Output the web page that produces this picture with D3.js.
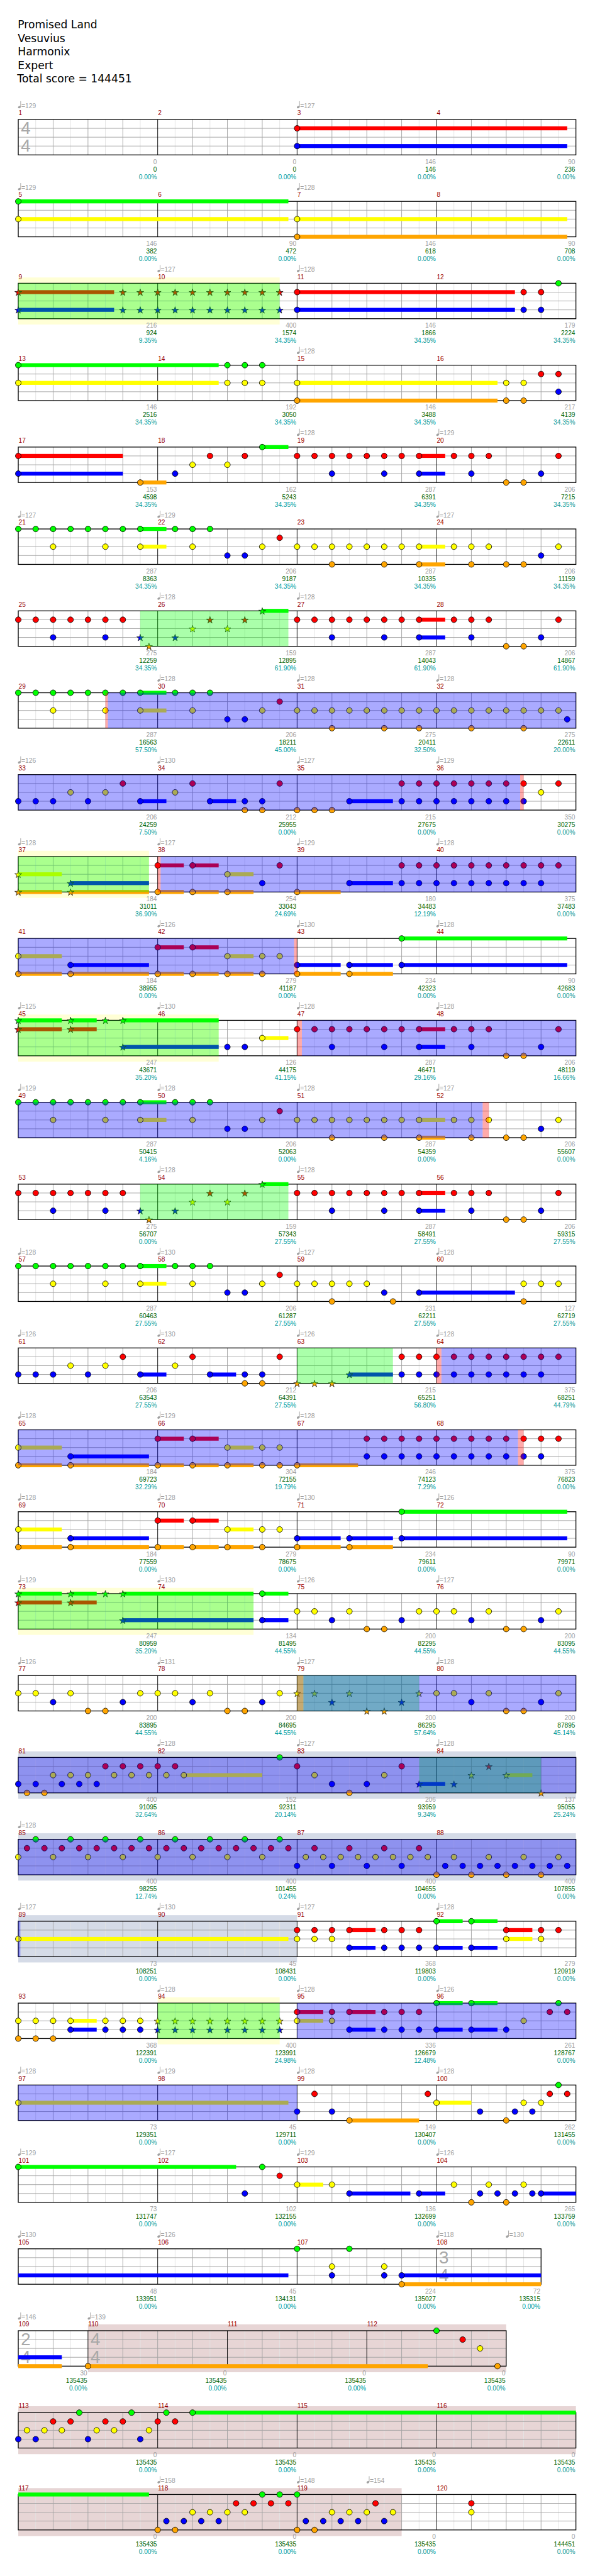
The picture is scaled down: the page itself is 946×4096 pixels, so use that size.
<!DOCTYPE html>
<html><head><meta charset="utf-8">
<script src="https://cdn.jsdelivr.net/npm/d3@7/dist/d3.min.js"></script>
<style>html,body{margin:0;padding:0;background:#fff;}svg{display:block;}</style>
</head><body>
<svg id="chart" width="946" height="4096" viewBox="0 0 1024 4435"></svg>
<script>
// ---------------- DATA ----------------
const titleLines = ["Promised Land", "Vesuvius", "Harmonix", "Expert"];
const totalScore = 144451;
const measureCount = 120;
const timeSignatures = [[1, 4, 4], [108, 3, 4], [109, 2, 4], [110, 4, 4]];

// [measure, beat, bpm]
const tempos = [[1,0,129],[3,0,127],[5,0,129],[7,0,128],[10,0,127],[11,0,128],[15,0,128],[19,0,128],[20,0,129],
[21,0,127],[22,0,129],[24,0,127],[26,0,128],[27,0,128],[30,0,128],[31,0,128],[32,0,128],[33,0,126],[34,0,130],
[35,0,127],[36,0,129],[37,0,128],[38,0,127],[39,0,129],[40,0,128],[42,0,126],[43,0,130],[44,0,128],[45,0,125],
[46,0,130],[47,0,128],[48,0,128],[49,0,129],[50,0,128],[51,0,128],[52,0,127],[54,0,128],[55,0,128],[57,0,128],
[58,0,130],[59,0,127],[60,0,128],[61,0,126],[62,0,130],[63,0,126],[64,0,128],[65,0,128],[66,0,129],[67,0,128],
[69,0,128],[70,0,128],[71,0,130],[72,0,126],[73,0,129],[74,0,130],[75,0,126],[76,0,127],[77,0,126],[78,0,131],
[79,0,127],[80,0,128],[82,0,128],[83,0,127],[84,0,128],[85,0,128],[89,0,127],[90,0,130],[91,0,127],[92,0,128],
[94,0,128],[95,0,128],[96,0,126],[97,0,128],[98,0,129],[99,0,128],[100,0,128],[101,0,129],[102,0,127],[103,0,129],
[104,0,126],[105,0,130],[106,0,126],[108,0,118],[108,2,130],[109,0,146],[110,0,139],[118,0,158],[119,0,148],[119,2,154]];

// [measure, beat, lanes (G R Y B O), sustain in beats]
const notes = [
[3,0,"RB",7.75],
[5,0,"GY",7.75],[7,0,"YO",7.75],
[9,0,"RB",2.75],[9,3,"RB"],[9,3.5,"RB"],[10,0,"RB"],[10,0.5,"RB"],[10,1,"RB"],[10,1.5,"RB"],[10,2,"RB"],[10,2.5,"RB"],[10,3,"RB"],[10,3.5,"RB"],
[11,0,"RB",6.25],[12,2.5,"RB"],[12,3,"RB"],[12,3.5,"G"],
[13,0,"GY",5.75],[14,2,"GY"],[14,2.5,"GY"],[14,3,"GY"],[15,0,"YO",5.75],[16,2,"YO"],[16,2.5,"YO"],[16,3,"R"],[16,3.5,"RB"],
[17,0,"RB",3],[17,3.5,"O",0.75],[18,0.5,"B"],[18,1,"Y"],[18,1.5,"R"],[18,2,"Y"],[18,2.5,"R"],[18,3,"G",0.75],
[19,0,"R"],[19,0.5,"R"],[19,1,"RB"],[19,1.5,"R"],[19,2,"R"],[19,2.5,"RB"],[19,3,"R"],[19,3.5,"RB",0.75],[20,0.5,"R"],[20,1,"RB"],[20,1.5,"R"],[20,2,"O"],[20,2.5,"O"],[20,3,"B"],[20,3.5,"R"],
[21,0,"G"],[21,0.5,"G"],[21,1,"GY"],[21,1.5,"G"],[21,2,"G"],[21,2.5,"GY"],[21,3,"G"],[21,3.5,"GY",0.75],[22,0.5,"G"],[22,1,"GY"],[22,1.5,"G"],[22,2,"B"],[22,2.5,"B"],[22,3,"Y"],[22,3.5,"R"],
[23,0,"Y"],[23,0.5,"Y"],[23,1,"YO"],[23,1.5,"Y"],[23,2,"Y"],[23,2.5,"YO"],[23,3,"Y"],[23,3.5,"YO",0.75],[24,0.5,"Y"],[24,1,"YO"],[24,1.5,"Y"],[24,2,"O"],[24,2.5,"O"],[24,3,"B"],[24,3.5,"Y"],
[25,0,"R"],[25,0.5,"R"],[25,1,"RB"],[25,1.5,"R"],[25,2,"R"],[25,2.5,"RB"],[25,3,"R"],[25,3.5,"B"],[25,3.75,"O"],[26,0.5,"B"],[26,1,"Y"],[26,1.5,"R"],[26,2,"Y"],[26,2.5,"R"],[26,3,"G",0.75],
[27,0,"R"],[27,0.5,"R"],[27,1,"RB"],[27,1.5,"R"],[27,2,"R"],[27,2.5,"RB"],[27,3,"R"],[27,3.5,"RB",0.75],[28,0.5,"R"],[28,1,"RB"],[28,1.5,"R"],[28,2,"O"],[28,2.5,"O"],[28,3,"B"],[28,3.5,"R"],
[29,0,"G"],[29,0.5,"G"],[29,1,"GY"],[29,1.5,"G"],[29,2,"G"],[29,2.5,"GY"],[29,3,"G"],[29,3.5,"GY",0.75],[30,0.5,"G"],[30,1,"GY"],[30,1.5,"G"],[30,2,"B"],[30,2.5,"B"],[30,3,"Y"],[30,3.5,"R"],
[31,0,"Y"],[31,0.5,"Y"],[31,1,"YO"],[31,1.5,"Y"],[31,2,"Y"],[31,2.5,"YO"],[31,3,"Y"],[31,3.5,"YO"],[32,0,"Y"],[32,0.5,"Y"],[32,1,"YO"],[32,1.5,"Y"],[32,2,"Y"],[32,2.5,"YO"],[32,3,"Y"],[32,3.5,"Y"],[32,3.75,"B"],
[33,0,"B"],[33,0.5,"B"],[33,1,"B"],[33,1.5,"Y"],[33,2,"B"],[33,2.5,"Y"],[33,3,"R"],[33,3.5,"B",0.75],[34,0.5,"Y"],[34,1,"R"],[34,1.5,"B",0.75],[34,2.5,"BO"],[34,3,"BO"],[34,3.5,"R"],
[35,0,"O"],[35,0.5,"O"],[35,1,"O"],[35,1.5,"B",1.25],[35,3,"RB"],[35,3.5,"RB"],[36,0,"RB"],[36,0.5,"RB"],[36,1,"RB"],[36,1.5,"RB"],[36,2,"RB"],[36,2.5,"RB"],[36,3,"Y"],[36,3.5,"R"],
[37,0,"YO",1.25],[37,1.5,"BO",2.25],[38,0,"RO",0.75],[38,1,"RO",0.75],[38,2,"YO",0.75],[38,3,"B"],[38,3.5,"R"],[39,0,"O",1.25],[39,1.5,"B",1.25],
[39,3,"RB"],[39,3.5,"RB"],[40,0,"RB"],[40,0.5,"RB"],[40,1,"RB"],[40,1.5,"RB"],[40,2,"RB"],[40,2.5,"RB"],[40,3,"RB"],[40,3.5,"R"],
[41,0,"YO",1.25],[41,1.5,"BO",2.25],[42,0,"RO",0.75],[42,1,"RO",0.75],[42,2,"YO",0.75],[42,3,"YO"],[42,3.5,"Y"],[43,0,"BO",1.25],[43,1.5,"BO",1.25],[43,3,"GB",4.75],
[45,0,"GR",1.25],[45,1.5,"GR",0.75],[45,2.5,"G"],[45,3,"GB",2.75],[46,2,"B"],[46,2.5,"B"],[46,3,"Y",0.75],
[47,0,"R"],[47,0.5,"R"],[47,1,"RB"],[47,1.5,"R"],[47,2,"R"],[47,2.5,"RB"],[47,3,"R"],[47,3.5,"RB",0.75],[48,0.5,"R"],[48,1,"RB"],[48,1.5,"R"],[48,2,"O"],[48,2.5,"O"],[48,3,"B"],[48,3.5,"R"],
[49,0,"G"],[49,0.5,"G"],[49,1,"GY"],[49,1.5,"G"],[49,2,"G"],[49,2.5,"GY"],[49,3,"G"],[49,3.5,"GY",0.75],[50,0.5,"G"],[50,1,"GY"],[50,1.5,"G"],[50,2,"B"],[50,2.5,"B"],[50,3,"Y"],[50,3.5,"R"],
[51,0,"Y"],[51,0.5,"Y"],[51,1,"YO"],[51,1.5,"Y"],[51,2,"Y"],[51,2.5,"YO"],[51,3,"Y"],[51,3.5,"YO",0.75],[52,0.5,"Y"],[52,1,"YO"],[52,1.5,"Y"],[52,2,"O"],[52,2.5,"O"],[52,3,"B"],[52,3.5,"Y"],
[53,0,"R"],[53,0.5,"R"],[53,1,"RB"],[53,1.5,"R"],[53,2,"R"],[53,2.5,"RB"],[53,3,"R"],[53,3.5,"B"],[53,3.75,"O"],[54,0.5,"B"],[54,1,"Y"],[54,1.5,"R"],[54,2,"Y"],[54,2.5,"R"],[54,3,"G",0.75],
[55,0,"R"],[55,0.5,"R"],[55,1,"RB"],[55,1.5,"R"],[55,2,"R"],[55,2.5,"RB"],[55,3,"R"],[55,3.5,"RB",0.75],[56,0.5,"R"],[56,1,"RB"],[56,1.5,"R"],[56,2,"O"],[56,2.5,"O"],[56,3,"B"],[56,3.5,"R"],
[57,0,"G"],[57,0.5,"G"],[57,1,"GY"],[57,1.5,"G"],[57,2,"G"],[57,2.5,"GY"],[57,3,"G"],[57,3.5,"GY",0.75],[58,0.5,"G"],[58,1,"GY"],[58,1.5,"G"],[58,2,"B"],[58,2.5,"B"],[58,3,"Y"],[58,3.5,"R"],
[59,0,"Y"],[59,0.5,"Y"],[59,1,"YO"],[59,1.5,"Y"],[59,2,"Y"],[59,2.5,"B"],[59,2.75,"O"],[59,3.5,"B",2.75],[60,2.5,"YO"],[60,3,"Y"],[60,3.5,"Y"],
[61,0,"B"],[61,0.5,"B"],[61,1,"B"],[61,1.5,"Y"],[61,2,"B"],[61,2.5,"Y"],[61,3,"R"],[61,3.5,"B",0.75],[62,0.5,"Y"],[62,1,"R"],[62,1.5,"B",0.75],[62,2.5,"BO"],[62,3,"BO"],[62,3.5,"R"],
[63,0,"O"],[63,0.5,"O"],[63,1,"O"],[63,1.5,"B",1.25],[63,3,"RB"],[63,3.5,"RB"],[64,0,"RB"],[64,0.5,"RB"],[64,1,"RB"],[64,1.5,"RB"],[64,2,"RB"],[64,2.5,"RB"],[64,3,"RB"],[64,3.5,"R"],
[65,0,"YO",1.25],[65,1.5,"BO",2.25],[66,0,"RO",0.75],[66,1,"RO",0.75],[66,2,"YO",0.75],[66,3,"YO"],[66,3.5,"YO"],[67,0,"O",1.75],
[67,2,"RB"],[67,2.5,"RB"],[67,3,"RB"],[67,3.5,"RB"],[68,0,"RB"],[68,0.5,"RB"],[68,1,"RB"],[68,1.5,"RB"],[68,2,"RB"],[68,2.5,"RB"],[68,3,"RB"],[68,3.5,"R"],
[69,0,"YO",1.25],[69,1.5,"BO",2.25],[70,0,"RO",0.75],[70,1,"RO",0.75],[70,2,"YO",0.75],[70,3,"YO"],[70,3.5,"Y"],[71,0,"BO",1.25],[71,1.5,"BO",1.25],[71,3,"GB",4.75],
[73,0,"GR",1.25],[73,1.5,"GR",0.75],[73,2.5,"G"],[73,3,"GB",3.75],[74,3,"GB",0.75],
[75,0,"Y"],[75,0.5,"Y"],[75,1,"B"],[75,1.5,"Y"],[75,2,"O"],[75,2.5,"O"],[75,3,"B"],[75,3.5,"Y"],
[76,0,"Y"],[76,0.5,"Y"],[76,1,"B"],[76,1.5,"Y"],[76,2,"O"],[76,2.5,"O"],[76,3,"B"],[76,3.5,"Y"],
[77,0,"Y"],[77,0.5,"Y"],[77,1,"B"],[77,1.5,"Y"],[77,2,"O"],[77,2.5,"O"],[77,3,"B"],[77,3.5,"Y"],
[78,0,"Y"],[78,0.5,"Y"],[78,1,"B"],[78,1.5,"Y"],[78,2,"O"],[78,2.5,"O"],[78,3,"B"],[78,3.5,"Y"],
[79,0,"Y"],[79,0.5,"Y"],[79,1,"B"],[79,1.5,"Y"],[79,2,"O"],[79,2.5,"O"],[79,3,"B"],[79,3.5,"Y"],
[80,0,"Y"],[80,0.5,"Y"],[80,1,"B"],[80,1.5,"Y"],[80,2,"O"],[80,2.5,"O"],[80,3,"B"],[80,3.5,"Y"],
[81,0,"B"],[81,0.25,"O"],[81,0.5,"B"],[81,0.75,"O"],[81,1,"Y"],[81,1.25,"B"],[81,1.5,"Y"],[81,1.75,"B"],[81,2,"Y"],[81,2.25,"B"],[81,2.5,"R"],[81,2.75,"Y"],[81,3,"R"],[81,3.25,"Y"],[81,3.5,"R"],[81,3.75,"Y"],
[82,0,"R"],[82,0.25,"Y"],[82,0.5,"R"],[82,0.75,"Y",2.25],[82,3.5,"G"],
[83,0,"R"],[83,0.5,"Y"],[83,1,"B"],[83,1.5,"O"],[83,2,"B"],[83,2.5,"Y"],[83,3,"R"],[83,3.5,"B",0.75],[84,0.5,"B"],[84,1,"Y"],[84,1.5,"R"],[84,2,"Y",0.75],[84,3,"O"],
[85,0,"Y"],[85,0.25,"R"],[85,0.5,"G"],[85,0.75,"R"],[85,1,"Y"],[85,1.25,"R"],[85,1.5,"G"],[85,1.75,"R"],[85,2,"Y"],[85,2.25,"R"],[85,2.5,"G"],[85,2.75,"R"],[85,3,"Y"],[85,3.25,"R"],[85,3.5,"G"],[85,3.75,"R"],
[86,0,"Y"],[86,0.25,"R"],[86,0.5,"G"],[86,0.75,"R"],[86,1,"Y"],[86,1.25,"R"],[86,1.5,"G"],[86,1.75,"R"],[86,2,"Y"],[86,2.25,"R"],[86,2.5,"G"],[86,2.75,"R"],[86,3,"Y"],[86,3.25,"R"],[86,3.5,"G"],[86,3.75,"R"],
[87,0,"B"],[87,0.25,"Y"],[87,0.5,"R"],[87,0.75,"Y"],[87,1,"B"],[87,1.25,"Y"],[87,1.5,"R"],[87,1.75,"Y"],[87,2,"B"],[87,2.25,"Y"],[87,2.5,"R"],[87,2.75,"Y"],[87,3,"B"],[87,3.25,"Y"],[87,3.5,"R"],[87,3.75,"Y"],
[88,0,"O"],[88,0.25,"B"],[88,0.5,"Y"],[88,0.75,"B"],[88,1,"O"],[88,1.25,"B"],[88,1.5,"Y"],[88,1.75,"B"],[88,2,"O"],[88,2.25,"B"],[88,2.5,"Y"],[88,2.75,"B"],[88,3,"O"],[88,3.25,"B"],[88,3.5,"Y"],[88,3.75,"B"],
[89,0,"Y",7.75],[91,0,"RY"],[91,0.5,"RY"],[91,1,"RY"],[91,1.5,"RB",0.75],[91,2.5,"RB"],[91,3,"RB"],[91,3.5,"RB"],[92,0,"GB",0.75],[92,1,"GB",0.75],[92,2,"RY",0.75],[92,3,"RY"],[92,3.5,"R"],
[93,0,"YO"],[93,0.5,"YO"],[93,1,"YO"],[93,1.5,"YB",0.75],[93,2.5,"YB"],[93,3,"YB"],[93,3.5,"YB"],
[94,0,"YB"],[94,0.5,"YB"],[94,1,"YB"],[94,1.5,"YB"],[94,2,"YB"],[94,2.5,"YB"],[94,3,"YB"],[94,3.5,"YB"],
[95,0,"RY",0.75],[95,1,"RY"],[95,1.5,"RB",0.75],[95,2.5,"RB"],[95,3,"RB"],[95,3.5,"RB"],[96,0,"GB",0.75],[96,1,"GB",0.75],[96,2,"B"],[96,2.5,"Y"],[96,3.25,"R"],[96,3.5,"G"],[96,3.75,"R"],
[97,0,"Y",7.75],[99,0,"B"],[99,0.5,"R"],[99,1,"B"],[99,1.5,"O",2],[99,3.75,"R"],[100,0,"Y",1],[100,1.25,"B"],[100,2,"O"],[100,2.25,"B"],[100,2.5,"Y"],[100,2.75,"B"],[100,3,"Y"],[100,3.25,"R"],[100,3.5,"G"],[100,3.75,"R"],
[101,0,"G",6.25],[102,2.5,"B"],[102,3,"G"],[102,3.5,"R"],[103,0,"Y",0.75],[103,1,"Y"],[103,1.5,"B",1.75],[103,3.5,"B",0.75],
[104,0.5,"Y"],[104,1,"O"],[104,1.25,"B"],[104,1.5,"Y"],[104,1.75,"B"],[104,2,"O"],[104,2.25,"B"],[104,2.5,"Y"],[104,2.75,"B"],[104,3,"B",8.75],
[107,0,"G"],[107,1,"YB"],[107,1.5,"G"],[107,2.5,"YB"],[107,3,"BO",5.25],
[110,0,"O",9.75],[112,2,"G"],[112,2.75,"R"],[112,3.25,"Y"],[112,3.75,"O"],
[113,0,"B"],[113,0.25,"Y"],[113,0.5,"B"],[113,0.75,"Y"],[113,1,"R"],[113,1.25,"Y"],[113,1.5,"R"],[113,1.75,"G"],[113,2,"B"],[113,2.25,"Y"],[113,2.5,"R"],[113,2.75,"Y"],[113,3,"R"],[113,3.25,"G"],[113,3.5,"B"],[113,3.75,"Y"],
[114,0,"R"],[114,0.25,"G"],[114,0.5,"R"],[114,1,"G",14.75],
[118,0,"O"],[118,0.25,"B"],[118,0.5,"O"],[118,0.75,"B"],[118,1,"Y"],[118,1.25,"B"],[118,1.5,"Y"],[118,1.75,"B"],[118,2,"Y"],[118,2.25,"R"],[118,2.5,"Y"],[118,2.75,"R"],[118,3,"G"],[118,3.25,"R"],[118,3.5,"G"],[118,3.75,"R"],
[119,0,"GO"],[119,0.25,"B"],[119,0.5,"O"],[119,0.75,"B"],[119,1,"Y"],[119,1.25,"B"],[119,1.5,"Y"],[119,1.75,"B"],[119,2,"Y"],[119,2.25,"R"],[119,2.5,"B"],[119,2.75,"Y"],[120,1,"RY"]
];

// regions: [[startMeasure, beat], [endMeasure, beat]]
const starPhrases = [[[9,0],[10,3.5]],[[25,3.5],[26,3.75]],[[37,0],[37,3.75]],[[45,0],[46,1.75]],[[53,3.5],[54,3.75]],
  [[63,0],[63,2.75]],[[73,0],[74,2.75]],[[79,0],[79,3.5]],[[83,3.5],[84,3]],[[94,0],[94,3.5]]];
const phraseHalos = [[[9,0],[10,3.5]],[[37,0],[37,3.75]],[[45,0],[46,1.75]],[[73,0],[74,2.75]],[[94,0],[94,3.5]]];
const overdrive = [[[29,2.57],[36,2.4]],[[38,0.083],[42,3.915]],[[47,0.137],[52,1.325]],[[64,0.14],[68,2.34]],[[79,0.18],[89,0.06]],[[95,0],[99,0]]];
const activationMarks = [[[29,2.5],[29,2.57]],[[36,2.4],[36,2.5]],[[38,0],[38,0.083]],[[42,3.915],[43,0]],[[47,0],[47,0.137]],
  [[52,1.325],[52,1.5]],[[64,0],[64,0.14]],[[68,2.34],[68,2.5]],[[79,0],[79,0.18]]];
const soloSections = [[[81,0],[91,0]]];
const bigRockEnding = [[[110,0],[119,3]]];

const measureScores = [0,0,146,90, 146,90,146,90, 216,400,146,179, 146,192,146,217, 153,162,287,206, 287,206,287,206,
 275,159,287,206, 287,206,275,275, 206,212,215,350, 184,254,180,375, 184,279,234,90, 247,126,287,206, 287,206,287,206,
 275,159,287,206, 287,206,231,127, 206,212,215,375, 184,304,246,375, 184,279,234,90, 247,134,200,200, 200,200,200,200,
 400,152,206,137, 400,400,400,400, 73,45,368,279, 368,400,336,261, 73,45,149,262, 73,102,136,265, 48,45,224,72,
 30,0,0,0, 0,0,0,0, 0,0,0,0];
const totalScores = [0,0,146,236, 382,472,618,708, 924,1574,1866,2224, 2516,3050,3488,4139, 4598,5243,6391,7215,
 8363,9187,10335,11159, 12259,12895,14043,14867, 16563,18211,20411,22611, 24259,25955,27675,30275, 31011,33043,34483,37483,
 38955,41187,42323,42683, 43671,44175,46471,48119, 50415,52063,54359,55607, 56707,57343,58491,59315, 60463,61287,62211,62719,
 63543,64391,65251,68251, 69723,72155,74123,76823, 77559,78675,79611,79971, 80959,81495,82295,83095, 83895,84695,86295,87895,
 91095,92311,93959,95055, 98255,101455,104655,107855, 108251,108431,119803,120919, 122391,123991,126679,128767,
 129351,129711,130407,131455, 131747,132155,132699,133759, 133951,134131,135027,135315, 135435,135435,135435,135435,
 135435,135435,135435,135435, 135435,135435,135435,144451];
const overdrivePct = [0,0,0,0, 0,0,0,0, 9.35,34.35,34.35,34.35, 34.35,34.35,34.35,34.35, 34.35,34.35,34.35,34.35,
 34.35,34.35,34.35,34.35, 34.35,61.90,61.90,61.90, 57.50,45.00,32.50,20.00, 7.50,0,0,0, 36.90,24.69,12.19,0, 0,0,0,0,
 35.20,41.15,29.16,16.66, 4.16,0,0,0, 0,27.55,27.55,27.55, 27.55,27.55,27.55,27.55, 27.55,27.55,56.80,44.79,
 32.29,19.79,7.29,0, 0,0,0,0, 35.20,44.55,44.55,44.55, 44.55,44.55,57.64,45.14, 32.64,20.14,9.34,25.24, 12.74,0.24,0,0,
 0,0,0,0, 0,24.98,12.48,0, 0,0,0,0, 0,0,0,0, 0,0,0,0, 0,0,0,0, 0,0,0,0, 0,0,0,0];

// ---------------- LAYOUT ----------------
const svg = d3.select("#chart");
const LANE = {G:0, R:1, Y:2, B:3, O:4};
const laneColor = {G:"#00ff00", R:"#ff0000", Y:"#ffff00", B:"#0000ff", O:"#ffa500"};
const SMALL = "'Liberation Sans', Arial, sans-serif";

const beatsPer = [];
for (let m = 1; m <= measureCount; m++) {
  let sig = timeSignatures.filter(t => t[0] <= m).pop();
  beatsPer[m] = sig[1];
}
const mStart = [];
mStart[1] = 0;
for (let m = 1; m <= measureCount; m++) mStart[m + 1] = mStart[m] + beatsPer[m];
const gb = (m, b) => mStart[m] + b;

const rows = d3.range(measureCount / 4).map(i => ({i, m0: 4*i+1, m1: 4*i+4, b0: mStart[4*i+1], b1: mStart[4*i+5]}));
const rowTop = d3.scaleLinear().domain([0, 1]).range([205.7, 346.7]);
const laneY = d3.scaleLinear().domain([0, 4]).range([0, 61]);
const STAFF_H = 61;
const xOf = r => d3.scaleLinear().domain([r.b0, r.b0 + 16]).range([31.3, 991.3]);

function split(a, b) {
  const out = [];
  rows.forEach(r => { const s = Math.max(a, r.b0), e = Math.min(b, r.b1); if (e > s + 1e-9) out.push({r, s, e}); });
  return out;
}
const rowOf = beat => rows.find(r => beat >= r.b0 - 1e-9 && beat < r.b1 - 1e-9) || rows[rows.length - 1];

const L = {};
["bg","grid","sig","sus","note","over","text"].forEach(k => L[k] = svg.append("g"));

// title
titleLines.concat(["Total score = " + totalScore]).forEach((t, i) => {
  L.text.append("text").attr("x", i === 4 ? 29.5 : 30.5).attr("y", 49 + i * 23.3)
    .attr("font-family", "'DejaVu Sans', sans-serif").attr("font-size", 18.6).attr("fill", "#000").text(t);
});

// background bands
function band(list, color, padT, padB) {
  list.forEach(([s, e]) => split(gb(...s), gb(...e)).forEach(({r, s, e}) => {
    const x = xOf(r), t = rowTop(r.i);
    L.bg.append("rect").attr("x", x(s)).attr("width", x(e) - x(s)).attr("y", t - padT)
      .attr("height", STAFF_H + padT + padB).attr("fill", color);
  }));
}
band(phraseHalos, "#ffffd6", 10, 10);
band(soloSections, "#d5dbe7", 10.5, 10);
band(bigRockEnding, "#e7d5d5", 11, 10.5);

// grid
rows.forEach(r => {
  const x = xOf(r), t = rowTop(r.i), g = L.grid.append("g");
  const n = Math.round((r.b1 - r.b0) * 2);
  const mStarts = d3.range(r.m0 + 1, r.m1 + 1).map(m => mStart[m]);
  const lines = d3.range(1, n).map(k => {
    const b = r.b0 + k / 2;
    const type = mStarts.some(ms => Math.abs(ms - b) < 1e-6) ? 2 : (Math.abs(b - Math.round(b)) < 1e-6 ? 1 : 0);
    return {b, type};
  });
  const col = ["#e3e3e3", "#a3a3a3", "#000"];
  [0, 1].forEach(tp => lines.filter(d => d.type === tp).forEach(d =>
    g.append("line").attr("x1", x(d.b)).attr("x2", x(d.b)).attr("y1", t).attr("y2", t + STAFF_H)
      .attr("stroke", col[tp]).attr("stroke-width", 1)));
  [1, 2, 3].forEach(l => g.append("line").attr("x1", x(r.b0)).attr("x2", x(r.b1))
    .attr("y1", t + laneY(l)).attr("y2", t + laneY(l)).attr("stroke", "#a3a3a3").attr("stroke-width", 1));
  lines.filter(d => d.type === 2).forEach(d =>
    g.append("line").attr("x1", x(d.b)).attr("x2", x(d.b)).attr("y1", t).attr("y2", t + STAFF_H)
      .attr("stroke", "#000").attr("stroke-width", 1));
  g.append("rect").attr("x", x(r.b0)).attr("y", t).attr("width", x(r.b1) - x(r.b0)).attr("height", STAFF_H)
    .attr("fill", "none").attr("stroke", "#000").attr("stroke-width", 1.4);
});

// time signatures
timeSignatures.forEach(([m, num, den]) => {
  const b = mStart[m], r = rowOf(b), x = xOf(r), t = rowTop(r.i);
  [[num, 25], [den, 55]].forEach(([v, dy]) =>
    L.sig.append("text").attr("x", x(b) + 12.8).attr("y", t + dy).attr("text-anchor", "middle")
      .attr("font-family", SMALL).attr("font-size", 30).attr("fill", "#a8a8a8").text(v));
});

// notes
const inPhrase = beat => starPhrases.some(([s, e]) => beat >= gb(...s) - 1e-6 && beat <= gb(...e) + 1e-6);
const items = [];
notes.forEach(([m, b, lanes, sus]) => {
  const beat = gb(m, b);
  for (const ch of lanes) items.push({beat, lane: LANE[ch], ch, sus: sus || 0, star: inPhrase(beat)});
});
items.filter(d => d.sus > 0).forEach(d => split(d.beat, d.beat + d.sus).forEach(({r, s, e}) => {
  const x = xOf(r), t = rowTop(r.i);
  L.sus.append("rect").attr("x", x(s)).attr("width", x(e) - x(s)).attr("y", t + laneY(d.lane) - 3.4)
    .attr("height", 6.8).attr("fill", laneColor[d.ch]);
}));
const starPath = d3.symbol().type(d3.symbolStar).size(44)();
items.forEach(d => {
  const r = rowOf(d.beat), x = xOf(r), cx = x(d.beat), cy = rowTop(r.i) + laneY(d.lane);
  if (d.star) {
    L.note.append("path").attr("d", starPath).attr("transform", `translate(${cx},${cy + 0.8})`)
      .attr("fill", laneColor[d.ch]).attr("stroke", "#111").attr("stroke-width", 0.8);
  } else {
    L.note.append("circle").attr("cx", cx).attr("cy", cy).attr("r", 4.9)
      .attr("fill", laneColor[d.ch]).attr("stroke", "#000").attr("stroke-width", 0.9);
  }
});

// overlays on the staff
function overlay(list, color) {
  list.forEach(([s, e]) => split(gb(...s), gb(...e)).forEach(({r, s, e}) => {
    const x = xOf(r), t = rowTop(r.i);
    L.over.append("rect").attr("x", x(s)).attr("width", x(e) - x(s)).attr("y", t).attr("height", STAFF_H)
      .attr("fill", color).attr("fill-opacity", 0.333);
  }));
}
overlay(starPhrases, "#00ff00");
overlay(overdrive, "#0000ff");
overlay(activationMarks, "#ff0000");

// tempo markers
tempos.forEach(([m, b, bpm]) => {
  const beat = gb(m, b), r = rowOf(beat), x = xOf(r)(beat), t = rowTop(r.i);
  L.text.append("ellipse").attr("cx", x + 1.9).attr("cy", t - 21.2).attr("rx", 2.5).attr("ry", 1.9)
    .attr("transform", `rotate(-25,${x + 1.9},${t - 21.2})`).attr("fill", "#a0a0a0");
  L.text.append("line").attr("x1", x + 4.1).attr("x2", x + 4.1).attr("y1", t - 21.5).attr("y2", t - 31.5)
    .attr("stroke", "#a0a0a0").attr("stroke-width", 1);
  L.text.append("text").attr("x", x + 5.3).attr("y", t - 20).attr("font-family", SMALL).attr("font-size", 11.2)
    .attr("fill", "#a0a0a0").text("=" + bpm);
});

// measure numbers and per-measure scores
const pct = d3.format(".2f");
d3.range(1, measureCount + 1).forEach(m => {
  const r = rowOf(mStart[m]), x = xOf(r), t = rowTop(r.i);
  L.text.append("text").attr("x", x(mStart[m]) + 0.5).attr("y", t - 7.3).attr("font-family", SMALL)
    .attr("font-size", 11).attr("fill", "#990000").text(m);
  const xr = x(mStart[m + 1]) - 1.3;
  [[measureScores[m - 1], 76.7, "#a0a0a0"], [totalScores[m - 1], 89.7, "#006400"], [pct(overdrivePct[m - 1]) + "%", 102.7, "#009a9a"]]
    .forEach(([v, dy, c]) => L.text.append("text").attr("x", xr).attr("y", t + dy).attr("text-anchor", "end")
      .attr("font-family", SMALL).attr("font-size", 11).attr("fill", c).text(v));
});
</script>
</body></html>
